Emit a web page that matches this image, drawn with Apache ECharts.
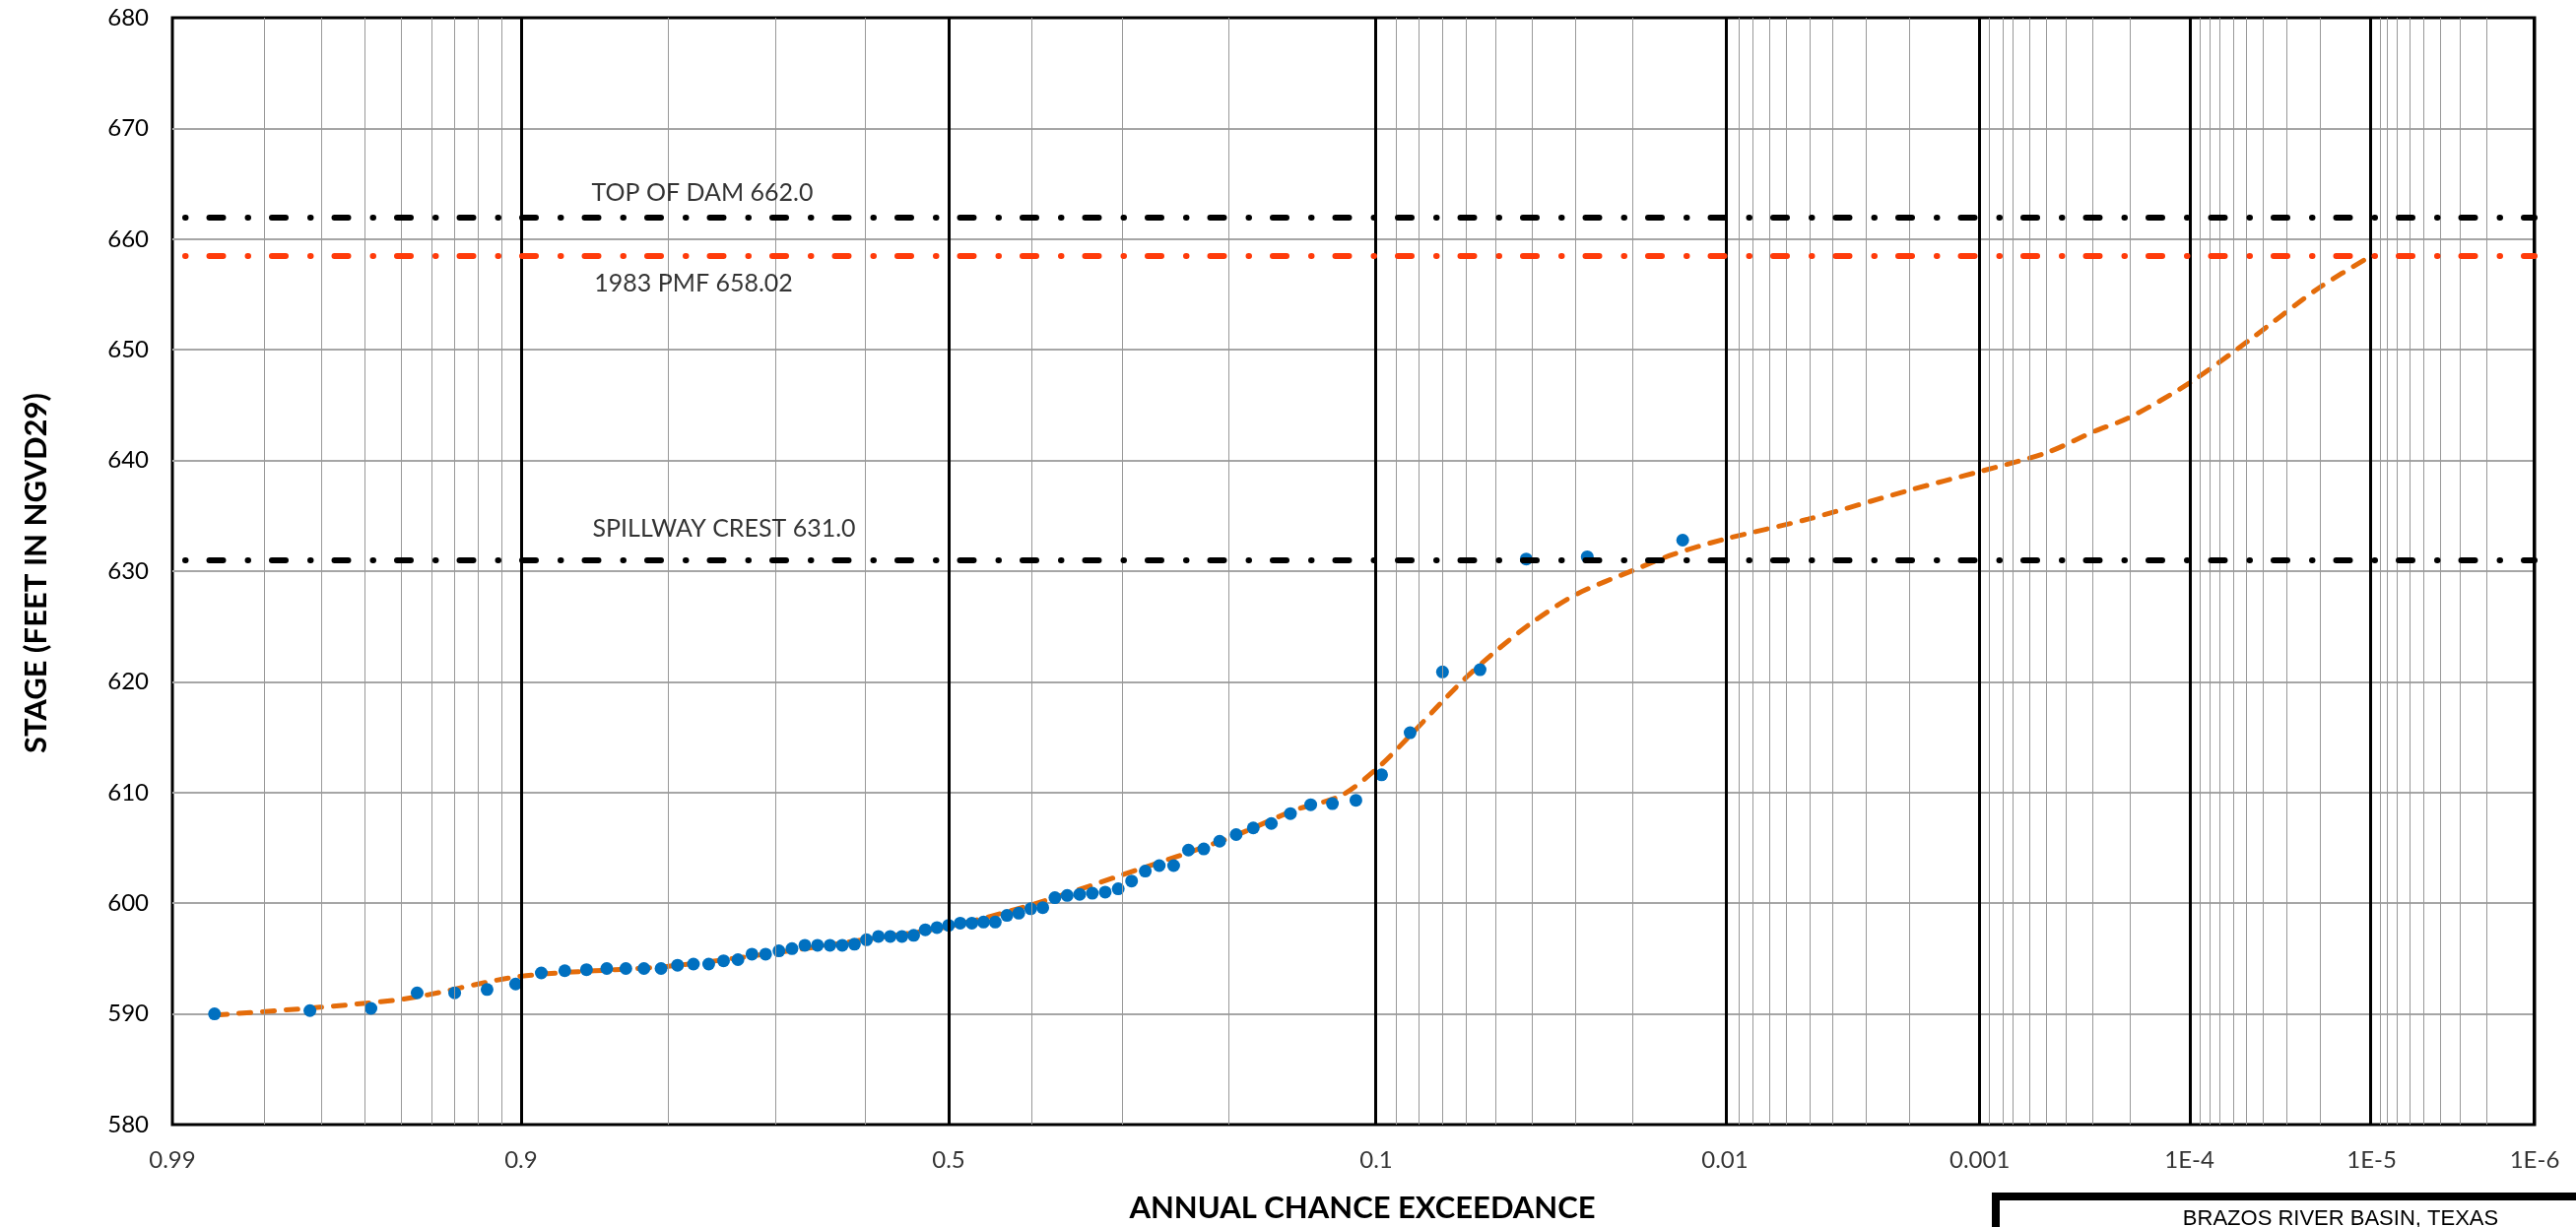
<!DOCTYPE html>
<html><head><meta charset="utf-8">
<script src="https://cdn.jsdelivr.net/npm/echarts@6/dist/echarts.min.js"></script>
<style>html,body{margin:0;padding:0;background:#fff}#c{width:2615px;height:1246px}</style>
</head><body><div id="c"></div>
<script>
// ---- DATA ----
// Observed annual peak stages, plotted at their annual chance exceedance (left to right)
const obsAEP = [0.9861,0.9722,0.9583,0.9444,0.9306,0.9167,0.9028,0.8889,0.875,0.8611,
  0.8472,0.8333,0.8194,0.8056,0.7917,0.7778,0.7639,0.75,0.7361,0.7222,
  0.7083,0.6944,0.6806,0.6667,0.6528,0.6389,0.625,0.6111,0.5972,0.5833,
  0.5694,0.5556,0.5417,0.5278,0.5139,0.5,0.4861,0.4722,0.4583,0.4444,
  0.4306,0.4167,0.4028,0.3889,0.375,0.3611,0.3472,0.3333,0.3194,0.3056,
  0.2917,0.2778,0.2639,0.25,0.2361,0.2222,0.2083,0.1944,0.1806,0.1667,
  0.1528,0.1389,0.125,0.1111,0.0972,0.0833,0.0694,0.0556,0.0417,0.0278,0.0139];
const obsStage = [590.0,590.3,590.5,591.9,591.9,592.2,592.7,593.7,593.9,594.0,
  594.1,594.1,594.1,594.1,594.4,594.5,594.5,594.8,594.9,595.4,
  595.4,595.7,595.9,596.2,596.2,596.2,596.2,596.3,596.7,597.0,
  597.0,597.0,597.1,597.6,597.8,598.0,598.2,598.2,598.3,598.3,
  598.9,599.1,599.5,599.6,600.5,600.7,600.8,600.9,601.0,601.3,
  602.0,602.9,603.4,603.4,604.8,604.9,605.6,606.2,606.8,607.2,
  608.1,608.9,609.0,609.3,611.6,615.4,620.9,621.1,631.1,631.3,632.8];
// Stage-frequency curve
const curveAEP = [0.986,0.95,0.9,0.8,0.7,0.6,0.5,0.4,0.3,0.2,0.15,0.12,0.1,0.085,0.07,0.06,0.05,0.04,0.03,0.02,0.015,0.01,0.005,0.002,0.001,0.0005,0.0003,0.0002,0.0001,0.00005,0.00002,0.00001];
const curveStage = [589.9,591.3,593.4,594.3,595.5,596.7,597.9,599.9,602.6,605.9,608.4,609.7,612.1,614.8,618.1,620.5,622.9,625.4,627.9,630.1,631.5,632.9,634.7,637.3,639.0,640.7,642.6,643.9,647.0,650.7,655.6,658.5];
// Reference elevations
const refNames = ['TOP OF DAM 662.0','1983 PMF 658.02','SPILLWAY CREST 631.0'];
const refStage = [662.0, 658.5, 631.0];
// Axis ticks
const majorAEP = [0.99,0.9,0.5,0.1,0.01,0.001,0.0001,0.00001,0.000001];
const majorLabels = ['0.99','0.9','0.5','0.1','0.01','0.001','1E-4','1E-5','1E-6'];
const minorAEP = [0.98,0.97,0.96,0.95,0.94,0.93,0.92,0.91,
  0.8,0.7,0.6,0.4,0.3,0.2,
  0.09,0.08,0.07,0.06,0.05,0.04,0.03,0.02,
  0.009,0.008,0.007,0.006,0.005,0.004,0.003,0.002,
  0.0009,0.0008,0.0007,0.0006,0.0005,0.0004,0.0003,0.0002,
  0.00009,0.00008,0.00007,0.00006,0.00005,0.00004,0.00003,0.00002,
  0.000009,0.000008,0.000007,0.000006,0.000005,0.000004,0.000003,0.000002];
const yTicks = [580,590,600,610,620,630,640,650,660,670,680];

// ---- normal probability scale ----
function invNorm(p){
  const a=[-3.969683028665376e+01,2.209460984245205e+02,-2.759285104469687e+02,1.383577518672690e+02,-3.066479806614716e+01,2.506628277459239e+00];
  const b=[-5.447609879822406e+01,1.615858368580409e+02,-1.556989798598866e+02,6.680131188771972e+01,-1.328068155288572e+01];
  const c=[-7.784894002430293e-03,-3.223964580411365e-01,-2.400758277161838e+00,-2.549732539343734e+00,4.374664141464968e+00,2.938163982698783e+00];
  const d=[7.784695709041462e-03,3.224671290700398e-01,2.445134137142996e+00,3.754408661907416e+00];
  const pl=0.02425, ph=1-pl; let q,r;
  if(p<pl){q=Math.sqrt(-2*Math.log(p));return (((((c[0]*q+c[1])*q+c[2])*q+c[3])*q+c[4])*q+c[5])/((((d[0]*q+d[1])*q+d[2])*q+d[3])*q+1);}
  if(p<=ph){q=p-0.5;r=q*q;return (((((a[0]*r+a[1])*r+a[2])*r+a[3])*r+a[4])*r+a[5])*q/(((((b[0]*r+b[1])*r+b[2])*r+b[3])*r+b[4])*r+1);}
  q=Math.sqrt(-2*Math.log(1-p));return -(((((c[0]*q+c[1])*q+c[2])*q+c[3])*q+c[4])*q+c[5])/((((d[0]*q+d[1])*q+d[2])*q+d[3])*q+1);
}
const zOf = p => -invNorm(p);
const FONT = 'Lato, "Open Sans", sans-serif';

const chart = echarts.init(document.getElementById('c'), null, {renderer:'canvas'});
const dashDot = [14,25,0.5,24];
chart.setOption({
  animation:false,
  backgroundColor:'#fff',
  grid:{left:175, top:18, width:2398, height:1124, show:true, borderColor:'#000', borderWidth:3, containLabel:false, outerBoundsMode:'none'},
  xAxis:{type:'value', min:zOf(0.99), max:zOf(0.000001), axisLabel:{show:false}, axisTick:{show:false}, axisLine:{show:false}, splitLine:{show:false}},
  yAxis:{type:'value', min:580, max:680, interval:10,
    axisLabel:{fontSize:24, color:'#000', margin:24, fontFamily:FONT},
    axisTick:{show:false}, axisLine:{show:false},
    splitLine:{show:true, showMinLine:false, showMaxLine:false, lineStyle:{color:'#a6a6a6', width:2}}},
  graphic:[
    {type:'text', x:37, y:582, rotation:Math.PI/2, style:{text:'STAGE (FEET IN NGVD29)', x:0, y:0, align:'center', verticalAlign:'middle', font:'bold 31px '+FONT, fill:'#000'}},
    {type:'text', x:1383, y:1227, style:{text:'ANNUAL CHANCE EXCEEDANCE', align:'center', verticalAlign:'middle', font:'bold 31px '+FONT, fill:'#000'}},
    {type:'polyline', shape:{points:[[2026,1260],[2026,1215],[2620,1215]]}, style:{stroke:'#000', lineWidth:8, fill:null}},
    {type:'text', x:2376, y:1238, style:{text:'BRAZOS RIVER BASIN, TEXAS', align:'center', verticalAlign:'middle', font:'22px "Liberation Sans", Arial, sans-serif', fill:'#000'}}
  ],
  series:[
    {type:'line', data:[], z:1, markLine:{silent:true, symbol:['none','none'], label:{show:false}, lineStyle:{color:'#999', width:1, type:'solid'},
      data:minorAEP.map(p=>({xAxis:zOf(p)}))}},
    {type:'line', data:[], z:1, markLine:{silent:true, symbol:['none','none'], label:{show:false}, lineStyle:{color:'#000', width:3, type:'solid'},
      data:majorAEP.map(p=>({xAxis:zOf(p)}))}},
    {type:'line', data:[], z:2, markLine:{silent:true, symbol:['none','none'], label:{show:false},
      data:refStage.map((v,i)=>({yAxis:v, lineStyle:{color: i===1?'#ff3b0a':'#000', width:6, type:dashDot, dashOffset:26, cap:'round'}}))}},
    {type:'line', z:3, data:curveAEP.map((p,i)=>[zOf(p), curveStage[i]]), showSymbol:false, smooth:0.3,
      lineStyle:{color:'#e46c0a', width:5, type:[12,12], cap:'round'}},
    {type:'scatter', z:4, data:obsAEP.map((p,i)=>[zOf(p), obsStage[i]]), symbolSize:13, itemStyle:{color:'#0070c0', opacity:1}},
    {type:'scatter', z:5, silent:true, symbolSize:0.01,
      data:[[zOf(0.7697),664.2],[zOf(0.7777),656.0],[zOf(0.7495),633.8]].map((d,i)=>({value:d, label:{show:true, position:'inside', formatter:refNames[i], fontSize:25, color:'#000', fontFamily:FONT}}))},
    {type:'scatter', z:5, silent:true, symbolSize:0.01,
      data:majorAEP.map((p,i)=>({value:[zOf(p),580], label:{show:true, position:'bottom', distance:24, formatter:majorLabels[i], fontSize:24, color:'#000', fontFamily:FONT}}))}
  ]
});
</script></body></html>
